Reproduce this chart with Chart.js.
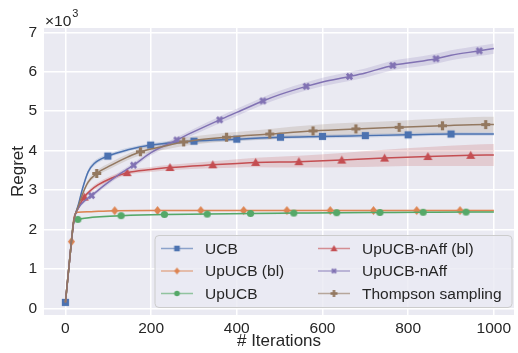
<!DOCTYPE html>
<html>
<head>
<meta charset="utf-8">
<script src="https://cdn.jsdelivr.net/npm/chart.js@4.4.0/dist/chart.umd.min.js"></script>
<style>
  html, body { margin: 0; padding: 0; background: #fff; }
  #wrap { width: 518px; height: 353px; }
</style>
</head>
<body>
<div id="wrap"><canvas id="regretChart" width="518" height="353"></canvas></div>
<script>
// values (iterations -> regret), err = half width of the shaded band
const ucbX = [0, 10, 20, 25, 30, 39, 53, 68, 99, 146, 199, 300, 400, 502, 600, 700, 800, 900, 1000];
const ucbY = [150, 1250, 2250, 2450, 2620, 3000, 3460, 3680, 3860, 4020, 4140, 4240, 4290, 4340, 4360, 4380, 4400, 4420, 4420];
const ucbErr = [0, 20, 30, 40, 50, 60, 60, 60, 50, 50, 45, 45, 45, 45, 45, 45, 45, 45, 45];
const ucbMarks = [0, 99, 199, 300, 400, 502, 600, 700, 800, 900];

const upblX = [0, 10, 14, 20, 25, 30, 60, 115, 215, 316, 416, 517, 618, 719, 820, 921, 1000];
const upblY = [150, 1250, 1690, 2300, 2420, 2435, 2450, 2475, 2480, 2480, 2480, 2480, 2480, 2480, 2480, 2480, 2480];
const upblErr = [0, 15, 20, 20, 20, 20, 20, 20, 20, 20, 20, 20, 20, 20, 20, 20, 20];
const upblMarks = [14, 115, 215, 316, 416, 517, 618, 719, 820, 921];

const upX = [0, 10, 14, 19, 29, 50, 80, 130, 231, 331, 432, 533, 633, 734, 835, 935, 1000];
const upY = [150, 1250, 1690, 2180, 2255, 2290, 2320, 2350, 2380, 2390, 2405, 2415, 2425, 2430, 2435, 2440, 2445];
const upErr = [0, 15, 20, 20, 20, 20, 20, 20, 20, 20, 20, 20, 20, 20, 20, 20, 20];
const upMarks = [29, 130, 231, 331, 432, 533, 633, 734, 835, 935];

const nablX = [0, 10, 14, 20, 30, 44, 60, 76, 107, 144, 200, 244, 344, 444, 545, 645, 745, 846, 946, 1000];
const nablY = [150, 1250, 1690, 2250, 2540, 2820, 3000, 3130, 3300, 3440, 3520, 3570, 3640, 3700, 3720, 3760, 3810, 3850, 3880, 3890];
const nablErr = [0, 20, 25, 30, 40, 50, 60, 60, 60, 60, 65, 70, 90, 120, 150, 180, 210, 240, 270, 280];
const nablMarks = [44, 144, 244, 344, 444, 545, 645, 745, 846, 946];

const naffX = [0, 10, 14, 20, 30, 45, 61, 92, 123, 159, 200, 260, 300, 360, 400, 461, 500, 562, 600, 663, 700, 764, 800, 865, 900, 966, 1000];
const naffY = [150, 1250, 1690, 2250, 2540, 2730, 2860, 3130, 3380, 3630, 3950, 4270, 4480, 4780, 4970, 5260, 5420, 5630, 5740, 5880, 5970, 6160, 6220, 6330, 6420, 6530, 6590];
const naffErr = [0, 20, 25, 30, 40, 50, 55, 60, 60, 60, 65, 70, 75, 85, 90, 95, 100, 105, 110, 115, 115, 120, 120, 125, 125, 130, 130];
const naffMarks = [61, 159, 260, 360, 461, 562, 663, 764, 865, 966];

const tsX = [0, 10, 14, 20, 30, 39, 53, 73, 107, 146, 175, 225, 276, 376, 477, 578, 678, 779, 880, 981, 1000];
const tsY = [150, 1250, 1690, 2250, 2580, 2870, 3200, 3420, 3630, 3840, 3970, 4100, 4220, 4340, 4420, 4500, 4550, 4590, 4630, 4660, 4660];
const tsErr = [0, 20, 25, 30, 40, 50, 60, 70, 80, 80, 85, 90, 100, 110, 130, 150, 160, 170, 185, 200, 200];
const tsMarks = [73, 175, 276, 376, 477, 578, 678, 779, 880, 981];

const names = ['UCB', 'UpUCB (bl)', 'UpUCB', 'UpUCB-nAff (bl)', 'UpUCB-nAff', 'Thompson sampling'];
const xTicks = [0, 200, 400, 600, 800, 1000];
const yTicks = [0, 1000, 2000, 3000, 4000, 5000, 6000, 7000];

const FONT = "'Liberation Sans', Arial, sans-serif";
const TEXT = '#262626';

const series = [
  { x: ucbX, y: ucbY, err: ucbErr, marks: ucbMarks, color: [76, 114, 176], shape: 'square' },
  { x: upblX, y: upblY, err: upblErr, marks: upblMarks, color: [221, 132, 82], shape: 'diamond' },
  { x: upX, y: upY, err: upErr, marks: upMarks, color: [85, 168, 104], shape: 'circle' },
  { x: nablX, y: nablY, err: nablErr, marks: nablMarks, color: [196, 78, 82], shape: 'triangle' },
  { x: naffX, y: naffY, err: naffErr, marks: naffMarks, color: [129, 114, 179], shape: 'xfill' },
  { x: tsX, y: tsY, err: tsErr, marks: tsMarks, color: [147, 120, 96], shape: 'plus' }
];

function rgba(c, a) { return 'rgba(' + c[0] + ',' + c[1] + ',' + c[2] + ',' + a + ')'; }

// matplotlib-like filled markers, drawn once on small canvases
function marker(shape, color, s) {
  const n = Math.ceil(s) + 2;
  const c = document.createElement('canvas');
  c.width = n; c.height = n;
  const g = c.getContext('2d');
  const m = n / 2, h = s / 2;
  g.fillStyle = color;
  g.beginPath();
  if (shape === 'square') {
    g.rect(m - h * 0.8, m - h * 0.8, h * 1.6, h * 1.6);
  } else if (shape === 'diamond') {
    g.moveTo(m, m - h); g.lineTo(m + h * 0.8, m); g.lineTo(m, m + h); g.lineTo(m - h * 0.8, m);
  } else if (shape === 'circle') {
    g.arc(m, m, h * 0.8, 0, Math.PI * 2);
  } else if (shape === 'triangle') {
    g.moveTo(m, m - h); g.lineTo(m + h, m + h * 0.75); g.lineTo(m - h, m + h * 0.75);
  } else {
    const t = h * 0.36;
    const pts = [[-t, -h], [t, -h], [t, -t], [h, -t], [h, t], [t, t], [t, h], [-t, h], [-t, t], [-h, t], [-h, -t], [-t, -t]];
    const rot = shape === 'xfill' ? Math.PI / 4 : 0;
    const k = shape === 'xfill' ? 0.85 : 1;
    pts.forEach((p, i) => {
      const px = m + k * (p[0] * Math.cos(rot) - p[1] * Math.sin(rot));
      const py = m + k * (p[0] * Math.sin(rot) + p[1] * Math.cos(rot));
      if (i === 0) g.moveTo(px, py); else g.lineTo(px, py);
    });
  }
  g.closePath();
  g.fill();
  return c;
}

const datasets = [];
series.forEach((s) => {
  datasets.push({
    data: s.x.map((v, i) => ({ x: v, y: s.y[i] - s.err[i] })),
    borderWidth: 0, borderColor: 'rgba(0,0,0,0)', pointRadius: 0, fill: false,
    cubicInterpolationMode: 'monotone', order: 20
  });
  datasets.push({
    data: s.x.map((v, i) => ({ x: v, y: s.y[i] + s.err[i] })),
    borderWidth: 0, borderColor: 'rgba(0,0,0,0)', pointRadius: 0, fill: '-1',
    backgroundColor: rgba(s.color, 0.2), cubicInterpolationMode: 'monotone', order: 20
  });
});
series.forEach((s, i) => {
  s.icon = marker(s.shape, rgba(s.color, 1), 9);
  s.legendIcon = marker(s.shape, rgba(s.color, 1), 7);
  datasets.push({
    label: names[i],
    data: s.x.map((v, j) => ({ x: v, y: s.y[j] })),
    borderColor: rgba(s.color, 1),
    borderWidth: 1.5,
    fill: false,
    cubicInterpolationMode: 'monotone',
    pointStyle: s.icon,
    pointRadius: (ctx) => (s.marks.includes(s.x[ctx.dataIndex]) ? 4 : 0),
    pointBorderWidth: 0,
    order: 10 - i
  });
});

const bgPlugin = {
  id: 'bg',
  beforeDraw(chart) {
    const a = chart.chartArea, ctx = chart.ctx;
    ctx.save();
    ctx.fillStyle = '#eaeaf2';
    ctx.fillRect(a.left, a.top, a.right - a.left, a.bottom - a.top);
    ctx.restore();
  }
};

const extrasPlugin = {
  id: 'extras',
  afterDraw(chart) {
    const ctx = chart.ctx;
    ctx.save();
    // offset text of the y axis
    ctx.fillStyle = TEXT;
    ctx.textBaseline = 'alphabetic';
    ctx.font = '15.5px ' + FONT;
    ctx.fillText('×10', 45, 26);
    const w = ctx.measureText('×10').width;
    ctx.font = '11px ' + FONT;
    ctx.fillText('3', 45 + w + 1, 17);

    // legend box, two columns
    const bx = 155, by = 235.5, bw = 357, bh = 72, r = 4;
    ctx.beginPath();
    ctx.moveTo(bx + r, by);
    ctx.arcTo(bx + bw, by, bx + bw, by + bh, r);
    ctx.arcTo(bx + bw, by + bh, bx, by + bh, r);
    ctx.arcTo(bx, by + bh, bx, by, r);
    ctx.arcTo(bx, by, bx + bw, by, r);
    ctx.closePath();
    ctx.fillStyle = 'rgba(234,234,242,0.8)';
    ctx.fill();
    ctx.strokeStyle = '#cccccc';
    ctx.lineWidth = 1;
    ctx.stroke();

    const cols = [161, 318];
    const rows = [248.5, 271, 293.5];
    ctx.font = '15.5px ' + FONT;
    ctx.textBaseline = 'middle';
    series.forEach((s, i) => {
      const x0 = cols[Math.floor(i / 3)], y0 = rows[i % 3];
      ctx.strokeStyle = rgba(s.color, 0.6);
      ctx.lineWidth = 1.5;
      ctx.beginPath();
      ctx.moveTo(x0, y0);
      ctx.lineTo(x0 + 32, y0);
      ctx.stroke();
      const ic = s.legendIcon;
      ctx.drawImage(ic, x0 + 16 - ic.width / 2, y0 - ic.height / 2);
      ctx.fillStyle = TEXT;
      ctx.fillText(names[i], x0 + 44, y0 + 1);
    });
    ctx.restore();
  }
};

new Chart(document.getElementById('regretChart'), {
  type: 'line',
  data: { datasets: datasets },
  options: {
    responsive: false,
    animation: false,
    layout: { padding: { top: 28, left: 0, right: 0, bottom: 0 } },
    plugins: { legend: { display: false }, tooltip: { enabled: false } },
    scales: {
      x: {
        type: 'linear', min: -50, max: 1047,
        afterBuildTicks: (s) => { s.ticks = xTicks.map((v) => ({ value: v })); },
        afterFit: (s) => { s.height = 38; },
        grid: { color: '#ffffff', lineWidth: 1.5, drawTicks: false },
        border: { display: false },
        ticks: { padding: 4, color: TEXT, font: { family: FONT, size: 15.5 }, maxRotation: 0, callback: (v) => String(v) },
        title: { display: true, text: '# Iterations', color: TEXT, font: { family: FONT, size: 17 }, padding: { top: 0, bottom: 1 } }
      },
      y: {
        type: 'linear', min: -170, max: 7110,
        afterBuildTicks: (s) => { s.ticks = yTicks.map((v) => ({ value: v })); },
        afterFit: (s) => { s.width = 44; },
        grid: { color: '#ffffff', lineWidth: 1.5, drawTicks: false },
        border: { display: false },
        ticks: { padding: 7, color: TEXT, font: { family: FONT, size: 15.5 }, callback: (v) => String(v / 1000) },
        title: { display: true, text: 'Regret', color: TEXT, font: { family: FONT, size: 17 }, padding: { top: 8, bottom: 0 } }
      }
    }
  },
  plugins: [bgPlugin, extrasPlugin]
});
</script>
</body>
</html>
